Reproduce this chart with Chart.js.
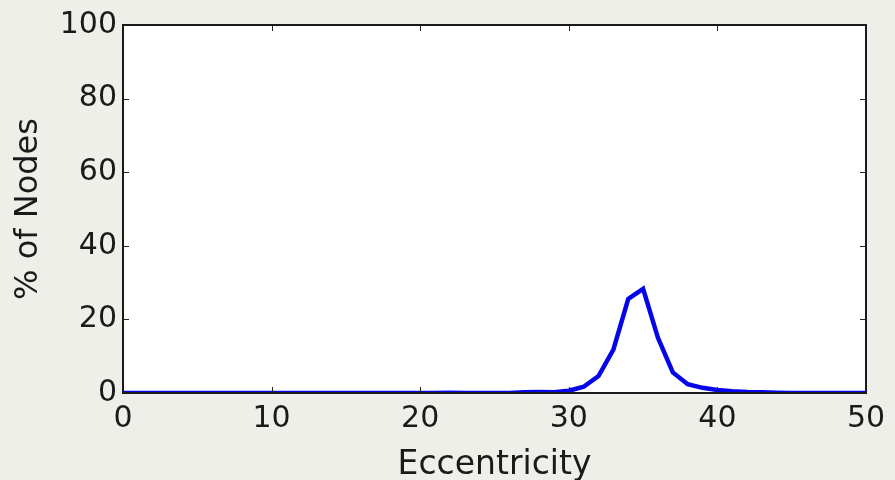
<!DOCTYPE html>
<html>
<head>
<meta charset="utf-8">
<script src="https://cdn.jsdelivr.net/npm/chart.js@4/dist/chart.umd.min.js"></script>
<style>
  html, body { margin: 0; padding: 0; background: #efefea; }
  #wrap { width: 895px; height: 480px; }
</style>
</head>
<body>
<div id="wrap"><canvas id="chart" width="895" height="480"></canvas></div>
<script>
// =======================
// Data
// =======================
const eccentricity = [];
for (let i = 0; i <= 50; i++) eccentricity.push(i);

const pctNodes = [
  0, 0, 0, 0, 0, 0, 0, 0, 0, 0,
  0, 0, 0, 0, 0, 0, 0, 0, 0, 0,
  0, 0, 0.1, 0, 0, 0, 0, 0.2, 0.3, 0.2,
  0.6, 1.7, 4.6, 11.8, 25.6, 28.3, 15.0, 5.6, 2.4, 1.4,
  0.8, 0.5, 0.3, 0.2, 0.1, 0, 0, 0, 0, 0,
  0
];

const xTicks = [0, 10, 20, 30, 40, 50];
const yTicks = [0, 20, 40, 60, 80, 100];

const FONT = "'DejaVu Sans', sans-serif";

// =======================
// Frame + inward ticks (matplotlib classic look)
// =======================
const framePlugin = {
  id: "frame",
  beforeDraw(chart) {
    const { ctx, chartArea: a } = chart;
    ctx.save();
    ctx.fillStyle = "#ffffff";
    ctx.fillRect(a.left, a.top, a.right - a.left, a.bottom - a.top);
    ctx.restore();
  },
  afterDraw(chart) {
    const { ctx, chartArea: a, scales } = chart;
    ctx.save();
    ctx.strokeStyle = "#222222";
    ctx.lineWidth = 1;
    xTicks.forEach(v => {
      const x = Math.round(scales.x.getPixelForValue(v)) + 0.5;
      ctx.beginPath();
      ctx.moveTo(x, a.bottom); ctx.lineTo(x, a.bottom - 6);
      ctx.moveTo(x, a.top); ctx.lineTo(x, a.top + 6);
      ctx.stroke();
    });
    yTicks.forEach(v => {
      const y = Math.round(scales.y.getPixelForValue(v)) + 0.5;
      ctx.beginPath();
      ctx.moveTo(a.left, y); ctx.lineTo(a.left + 6, y);
      ctx.moveTo(a.right, y); ctx.lineTo(a.right - 6, y);
      ctx.stroke();
    });
    ctx.lineWidth = 2;
    ctx.strokeStyle = "#1a1a1a";
    ctx.strokeRect(a.left, a.top, a.right - a.left, a.bottom - a.top);
    ctx.restore();
  }
};

new Chart(document.getElementById("chart"), {
  type: "line",
  data: {
    datasets: [{
      data: eccentricity.map((x, i) => ({ x: x, y: pctNodes[i] })),
      borderColor: "#0505e8",
      borderWidth: 4.5,
      pointRadius: 0,
      tension: 0,
      fill: false
    }]
  },
  options: {
    responsive: false,
    animation: false,
    layout: { padding: { top: 25, right: 29, left: 0, bottom: 0 } },
    plugins: { legend: { display: false }, tooltip: { enabled: false } },
    scales: {
      x: {
        type: "linear",
        min: 0, max: 50,
        afterFit(scale) { scale.height = 87; },
        afterBuildTicks(scale) { scale.ticks = xTicks.map(v => ({ value: v })); },
        grid: { display: false, drawTicks: false },
        border: { display: false },
        ticks: { color: "#1a1a1a", font: { family: FONT, size: 30 }, padding: 8, maxRotation: 0 },
        title: { display: true, text: "Eccentricity", color: "#1a1a1a", font: { family: FONT, size: 33 }, padding: { top: 4, bottom: -5 } }
      },
      y: {
        type: "linear",
        min: 0, max: 100,
        afterFit(scale) { scale.width = 123; },
        afterBuildTicks(scale) { scale.ticks = yTicks.map(v => ({ value: v })); },
        grid: { display: false, drawTicks: false },
        border: { display: false },
        ticks: { color: "#1a1a1a", font: { family: FONT, size: 30 }, padding: 6 },
        title: { display: true, text: "% of Nodes", color: "#1a1a1a", font: { family: FONT, size: 32 }, padding: { top: 9, bottom: 0 } }
      }
    }
  },
  plugins: [framePlugin]
});
</script>
</body>
</html>
